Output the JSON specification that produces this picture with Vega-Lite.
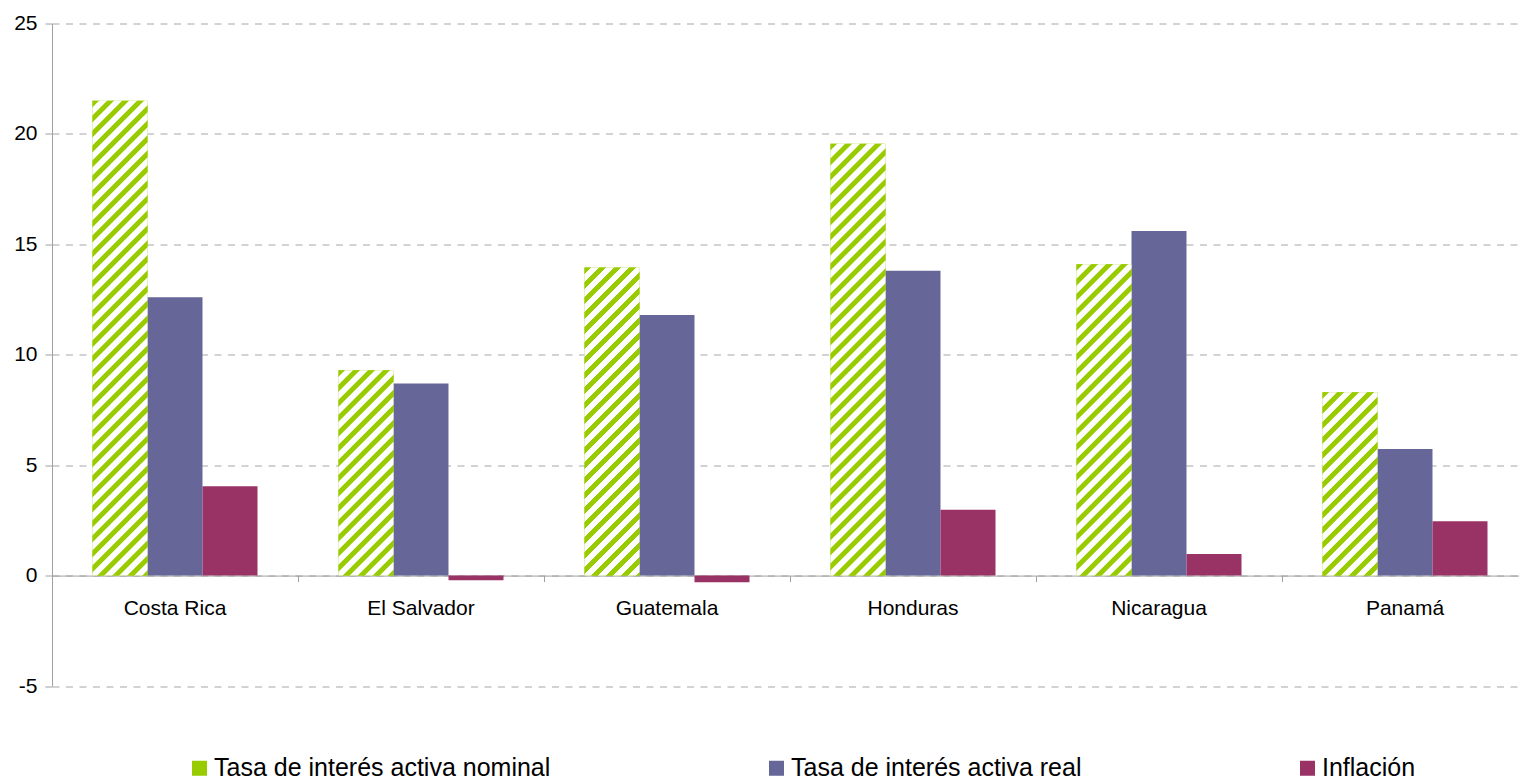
{
  "$schema": "https://vega.github.io/schema/vega-lite/v6.json",
  "width": 1467,
  "height": 662.5,
  "autosize": {"type": "none"},
  "padding": {"left": 52, "top": 23.5, "right": 0, "bottom": 95},
  "background": "white",
  "config": {
    "view": {"stroke": null},
    "font": "Liberation Sans",
    "axis": {"labelFont": "Liberation Sans", "labelColor": "black", "title": null}
  },
  "params": [
    {"name": "stripes", "value": [
      {"offset":0,"color":"#99cc00"},{"offset":0.0111,"color":"#99cc00"},{"offset":0.013,"color":"#ffffff"},{"offset":0.0259,"color":"#ffffff"},
      {"offset":0.0278,"color":"#99cc00"},{"offset":0.0389,"color":"#99cc00"},{"offset":0.0407,"color":"#ffffff"},{"offset":0.0537,"color":"#ffffff"},
      {"offset":0.0556,"color":"#99cc00"},{"offset":0.0667,"color":"#99cc00"},{"offset":0.0685,"color":"#ffffff"},{"offset":0.0815,"color":"#ffffff"},
      {"offset":0.0833,"color":"#99cc00"},{"offset":0.0944,"color":"#99cc00"},{"offset":0.0963,"color":"#ffffff"},{"offset":0.1093,"color":"#ffffff"},
      {"offset":0.1111,"color":"#99cc00"},{"offset":0.1222,"color":"#99cc00"},{"offset":0.1241,"color":"#ffffff"},{"offset":0.137,"color":"#ffffff"},
      {"offset":0.1389,"color":"#99cc00"},{"offset":0.15,"color":"#99cc00"},{"offset":0.1519,"color":"#ffffff"},{"offset":0.1648,"color":"#ffffff"},
      {"offset":0.1667,"color":"#99cc00"},{"offset":0.1778,"color":"#99cc00"},{"offset":0.1796,"color":"#ffffff"},{"offset":0.1926,"color":"#ffffff"},
      {"offset":0.1944,"color":"#99cc00"},{"offset":0.2056,"color":"#99cc00"},{"offset":0.2074,"color":"#ffffff"},{"offset":0.2204,"color":"#ffffff"},
      {"offset":0.2222,"color":"#99cc00"},{"offset":0.2333,"color":"#99cc00"},{"offset":0.2352,"color":"#ffffff"},{"offset":0.2481,"color":"#ffffff"},
      {"offset":0.25,"color":"#99cc00"},{"offset":0.2611,"color":"#99cc00"},{"offset":0.263,"color":"#ffffff"},{"offset":0.2759,"color":"#ffffff"},
      {"offset":0.2778,"color":"#99cc00"},{"offset":0.2889,"color":"#99cc00"},{"offset":0.2907,"color":"#ffffff"},{"offset":0.3037,"color":"#ffffff"},
      {"offset":0.3056,"color":"#99cc00"},{"offset":0.3167,"color":"#99cc00"},{"offset":0.3185,"color":"#ffffff"},{"offset":0.3315,"color":"#ffffff"},
      {"offset":0.3333,"color":"#99cc00"},{"offset":0.3444,"color":"#99cc00"},{"offset":0.3463,"color":"#ffffff"},{"offset":0.3593,"color":"#ffffff"},
      {"offset":0.3611,"color":"#99cc00"},{"offset":0.3722,"color":"#99cc00"},{"offset":0.3741,"color":"#ffffff"},{"offset":0.387,"color":"#ffffff"},
      {"offset":0.3889,"color":"#99cc00"},{"offset":0.4,"color":"#99cc00"},{"offset":0.4019,"color":"#ffffff"},{"offset":0.4148,"color":"#ffffff"},
      {"offset":0.4167,"color":"#99cc00"},{"offset":0.4278,"color":"#99cc00"},{"offset":0.4296,"color":"#ffffff"},{"offset":0.4426,"color":"#ffffff"},
      {"offset":0.4444,"color":"#99cc00"},{"offset":0.4556,"color":"#99cc00"},{"offset":0.4574,"color":"#ffffff"},{"offset":0.4704,"color":"#ffffff"},
      {"offset":0.4722,"color":"#99cc00"},{"offset":0.4833,"color":"#99cc00"},{"offset":0.4852,"color":"#ffffff"},{"offset":0.4981,"color":"#ffffff"},
      {"offset":0.5,"color":"#99cc00"},{"offset":0.5111,"color":"#99cc00"},{"offset":0.513,"color":"#ffffff"},{"offset":0.5259,"color":"#ffffff"},
      {"offset":0.5278,"color":"#99cc00"},{"offset":0.5389,"color":"#99cc00"},{"offset":0.5407,"color":"#ffffff"},{"offset":0.5537,"color":"#ffffff"},
      {"offset":0.5556,"color":"#99cc00"},{"offset":0.5667,"color":"#99cc00"},{"offset":0.5685,"color":"#ffffff"},{"offset":0.5815,"color":"#ffffff"},
      {"offset":0.5833,"color":"#99cc00"},{"offset":0.5944,"color":"#99cc00"},{"offset":0.5963,"color":"#ffffff"},{"offset":0.6093,"color":"#ffffff"},
      {"offset":0.6111,"color":"#99cc00"},{"offset":0.6222,"color":"#99cc00"},{"offset":0.6241,"color":"#ffffff"},{"offset":0.637,"color":"#ffffff"},
      {"offset":0.6389,"color":"#99cc00"},{"offset":0.65,"color":"#99cc00"},{"offset":0.6519,"color":"#ffffff"},{"offset":0.6648,"color":"#ffffff"},
      {"offset":0.6667,"color":"#99cc00"},{"offset":0.6778,"color":"#99cc00"},{"offset":0.6796,"color":"#ffffff"},{"offset":0.6926,"color":"#ffffff"},
      {"offset":0.6944,"color":"#99cc00"},{"offset":0.7056,"color":"#99cc00"},{"offset":0.7074,"color":"#ffffff"},{"offset":0.7204,"color":"#ffffff"},
      {"offset":0.7222,"color":"#99cc00"},{"offset":0.7333,"color":"#99cc00"},{"offset":0.7352,"color":"#ffffff"},{"offset":0.7481,"color":"#ffffff"},
      {"offset":0.75,"color":"#99cc00"},{"offset":0.7611,"color":"#99cc00"},{"offset":0.763,"color":"#ffffff"},{"offset":0.7759,"color":"#ffffff"},
      {"offset":0.7778,"color":"#99cc00"},{"offset":0.7889,"color":"#99cc00"},{"offset":0.7907,"color":"#ffffff"},{"offset":0.8037,"color":"#ffffff"},
      {"offset":0.8056,"color":"#99cc00"},{"offset":0.8167,"color":"#99cc00"},{"offset":0.8185,"color":"#ffffff"},{"offset":0.8315,"color":"#ffffff"},
      {"offset":0.8333,"color":"#99cc00"},{"offset":0.8444,"color":"#99cc00"},{"offset":0.8463,"color":"#ffffff"},{"offset":0.8593,"color":"#ffffff"},
      {"offset":0.8611,"color":"#99cc00"},{"offset":0.8722,"color":"#99cc00"},{"offset":0.8741,"color":"#ffffff"},{"offset":0.887,"color":"#ffffff"},
      {"offset":0.8889,"color":"#99cc00"},{"offset":0.9,"color":"#99cc00"},{"offset":0.9019,"color":"#ffffff"},{"offset":0.9148,"color":"#ffffff"},
      {"offset":0.9167,"color":"#99cc00"},{"offset":0.9278,"color":"#99cc00"},{"offset":0.9296,"color":"#ffffff"},{"offset":0.9426,"color":"#ffffff"},
      {"offset":0.9444,"color":"#99cc00"},{"offset":0.9556,"color":"#99cc00"},{"offset":0.9574,"color":"#ffffff"},{"offset":0.9704,"color":"#ffffff"},
      {"offset":0.9722,"color":"#99cc00"},{"offset":0.9833,"color":"#99cc00"},{"offset":0.9852,"color":"#ffffff"},{"offset":0.9981,"color":"#ffffff"},
      {"offset":1,"color":"#99cc00"}
    ]}
  ],
  "data": {
    "values": [
      {"pais": "Costa Rica", "serie": "Tasa de interés activa nominal", "valor": 21.5},
      {"pais": "Costa Rica", "serie": "Tasa de interés activa real", "valor": 12.6},
      {"pais": "Costa Rica", "serie": "Inflación", "valor": 4.05},
      {"pais": "El Salvador", "serie": "Tasa de interés activa nominal", "valor": 9.3},
      {"pais": "El Salvador", "serie": "Tasa de interés activa real", "valor": 8.7},
      {"pais": "El Salvador", "serie": "Inflación", "valor": -0.21},
      {"pais": "Guatemala", "serie": "Tasa de interés activa nominal", "valor": 13.95},
      {"pais": "Guatemala", "serie": "Tasa de interés activa real", "valor": 11.8},
      {"pais": "Guatemala", "serie": "Inflación", "valor": -0.3},
      {"pais": "Honduras", "serie": "Tasa de interés activa nominal", "valor": 19.55},
      {"pais": "Honduras", "serie": "Tasa de interés activa real", "valor": 13.8},
      {"pais": "Honduras", "serie": "Inflación", "valor": 2.98},
      {"pais": "Nicaragua", "serie": "Tasa de interés activa nominal", "valor": 14.1},
      {"pais": "Nicaragua", "serie": "Tasa de interés activa real", "valor": 15.6},
      {"pais": "Nicaragua", "serie": "Inflación", "valor": 0.98},
      {"pais": "Panamá", "serie": "Tasa de interés activa nominal", "valor": 8.3},
      {"pais": "Panamá", "serie": "Tasa de interés activa real", "valor": 5.73},
      {"pais": "Panamá", "serie": "Inflación", "valor": 2.46}
    ]
  },
  "encoding": {
    "x": {
      "field": "pais", "type": "nominal", "sort": null,
      "scale": {"range": [0, 1476], "paddingInner": 0, "paddingOuter": 0},
      "axis": {
        "title": null, "orient": "bottom", "offset": -110.42, "bandPosition": 0,
        "labelAngle": 0, "labelAlign": "center",
        "domainColor": "#a0a0a0", "tickColor": "#a0a0a0", "tickSize": 6,
        "labelPadding": 15.5, "labelFontSize": 21, "labelColor": "black",
        "grid": false, "labelOverlap": false
      }
    },
    "xOffset": {
      "field": "serie", "type": "nominal",
      "scale": {
        "domain": ["Tasa de interés activa nominal", "Tasa de interés activa real", "Inflación"],
        "paddingInner": 0, "paddingOuter": 0.7364
      }
    },
    "y": {
      "field": "valor", "type": "quantitative",
      "scale": {"domain": [-5, 25], "nice": false, "zero": false},
      "axis": {
        "title": null, "values": [-5, 0, 5, 10, 15, 20, 25],
        "labelExpr": "'' + datum.value",
        "domainColor": "#a0a0a0", "tickColor": "#a0a0a0", "tickSize": 7,
        "labelPadding": 8, "labelFontSize": 21, "labelColor": "black",
        "grid": true, "gridColor": "#a6a6a6", "gridDash": [7, 6.5], "gridWidth": 1
      }
    }
  },
  "layer": [
    {
      "mark": {"type": "bar"},
      "encoding": {
        "color": {
          "field": "serie", "type": "nominal",
          "scale": {
            "domain": ["Tasa de interés activa nominal", "Tasa de interés activa real", "Inflación"],
            "range": ["#99cc00", "#666699", "#993366"]
          },
          "legend": {
            "orient": "none", "legendX": 135, "legendY": 732,
            "direction": "horizontal", "title": null,
            "symbolType": "square", "symbolSize": 225, "symbolStrokeWidth": 0,
            "symbolOpacity": 1,
            "labelFontSize": 25, "labelOffset": 2, "labelColor": "black",
            "labelFont": "Liberation Sans",
            "columnPadding": 213, "labelLimit": 0, "padding": 0
          }
        }
      }
    },
    {
      "transform": [{"filter": "datum.serie === 'Tasa de interés activa nominal'"}],
      "mark": {"type": "bar"},
      "encoding": {
        "fill": {"value": {"expr": "{gradient: 'linear', x1: 0, y1: 0, x2: 29700 / (3025 + pow(datum.valor * 22.0833, 2)), y2: 540 * datum.valor * 22.0833 / (3025 + pow(datum.valor * 22.0833, 2)), stops: stripes}"}}
      }
    }
  ]
}
